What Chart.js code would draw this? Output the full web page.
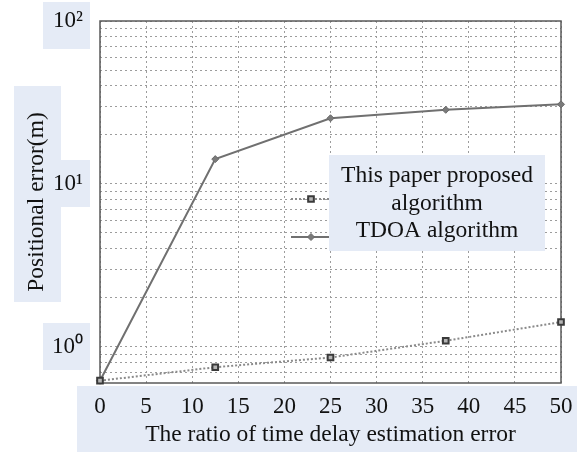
<!DOCTYPE html>
<html>
<head>
<meta charset="utf-8">
<script src="https://cdn.jsdelivr.net/npm/chart.js@4.4.0/dist/chart.umd.min.js"></script>
<style>
  html, body { margin: 0; padding: 0; background: #fff; }
  #wrap { position: relative; width: 577px; height: 452px; }
</style>
</head>
<body>
<div id="wrap"><canvas id="errChart" width="577" height="452"></canvas></div>
<script>
// values
const ratioValues = [0, 12.5, 25, 37.5, 50];
const proposedError = [0.62, 0.75, 0.86, 1.09, 1.42];
const tdoaError = [0.62, 14.2, 25.3, 28.5, 30.8];
const seriesNames = ['This paper proposed algorithm', 'TDOA algorithm'];
const legendLines = ['This paper proposed', 'algorithm', 'TDOA algorithm'];
const yTickLabels = { 1: '10\u2070', 10: '10\u00b9', 100: '10\u00b2' };
const xTitle = 'The ratio of time delay estimation error';
const yTitle = 'Positional error(m)';

const serif = '"Liberation Serif", "Times New Roman", serif';
const patchColor = '#e5ebf6';

// log gridlines: 1..9 in each decade, within the axis range
const yMin = 0.62, yMax = 100;
const yGrid = [];
[0.1, 1, 10].forEach(d => {
    for (let k = 1; k <= 9; k++) {
        const v = Math.round(k * d * 1000) / 1000;
        if (v >= yMin && v <= yMax) yGrid.push(v);
    }
});
yGrid.push(yMax);

const toPoints = ys => ys.map((y, i) => ({ x: ratioValues[i], y: y }));

// light patches behind the axis texts (as in the figure)
const patchPlugin = {
    id: 'patches',
    beforeDraw(chart) {
        const ctx = chart.ctx;
        ctx.save();
        ctx.fillStyle = patchColor;
        [[43, 2, 47, 47], [14, 86, 47, 216], [61, 160, 29, 47], [43, 323, 47, 47], [77, 386, 500, 66]]
            .forEach(r => ctx.fillRect(r[0], r[1], r[2], r[3]));
        ctx.restore();
    },
    beforeDatasetsDraw(chart) {
        const a = chart.chartArea, ctx = chart.ctx;
        ctx.save();
        ctx.strokeStyle = '#5a5a5a';
        ctx.lineWidth = 1.5;
        ctx.strokeRect(a.left, a.top, a.right - a.left, a.bottom - a.top);
        ctx.restore();
    }
};

// legend drawn inside the plot, as in the figure
const legendPlugin = {
    id: 'boxLegend',
    afterDatasetsDraw(chart) {
        const ctx = chart.ctx;
        ctx.save();
        const rows = [199, 237];
        chart.data.datasets.forEach((ds, i) => {
            const y = rows[i];
            ctx.strokeStyle = ds.borderColor;
            ctx.lineWidth = ds.borderWidth;
            ctx.setLineDash(ds.borderDash || []);
            ctx.beginPath();
            ctx.moveTo(291, y);
            ctx.lineTo(331, y);
            ctx.stroke();
            ctx.setLineDash([]);
            ctx.fillStyle = ds.pointBackgroundColor;
            ctx.strokeStyle = ds.pointBorderColor;
            ctx.lineWidth = ds.pointBorderWidth;
            Chart.helpers.drawPoint(ctx, {
                pointStyle: ds.pointStyle, radius: ds.pointRadius,
                rotation: 0, borderWidth: ds.pointBorderWidth
            }, 311, y);
        });
        ctx.fillStyle = patchColor;
        ctx.fillRect(329, 155, 216, 96);
        ctx.fillStyle = '#111';
        ctx.font = '23.5px ' + serif;
        ctx.textAlign = 'center';
        ctx.textBaseline = 'middle';
        [176, 204, 231].forEach((y, i) => ctx.fillText(legendLines[i], 437, y));
        ctx.restore();
    }
};

new Chart(document.getElementById('errChart'), {
    type: 'line',
    data: {
        datasets: [{
            label: seriesNames[0],
            data: toPoints(proposedError),
            borderColor: '#8a8a8a',
            borderWidth: 2,
            borderDash: [2, 2],
            pointStyle: 'rect',
            pointRadius: 4,
            pointBackgroundColor: '#b5b5b5',
            pointBorderColor: '#3a3a3a',
            pointBorderWidth: 2,
            clip: false
        }, {
            label: seriesNames[1],
            data: toPoints(tdoaError),
            borderColor: '#707070',
            borderWidth: 2,
            pointStyle: 'rectRot',
            pointRadius: 3.5,
            pointBackgroundColor: '#7a7a7a',
            pointBorderColor: '#6a6a6a',
            pointBorderWidth: 1,
            clip: false
        }]
    },
    options: {
        responsive: false,
        animation: false,
        layout: { padding: { top: 21, right: 16, left: 0, bottom: 0 } },
        plugins: { legend: { display: false }, tooltip: { enabled: false } },
        scales: {
            x: {
                type: 'linear', min: 0, max: 50,
                afterFit: s => { s.height = 69; s.paddingLeft = 0; s.paddingRight = 0; },
                border: { display: false, dash: [2, 3] },
                grid: { color: '#9c9c9c', lineWidth: 1, drawTicks: false },
                ticks: {
                    stepSize: 5, autoSkip: false, maxRotation: 0, padding: 10,
                    color: '#111', font: { family: serif, size: 23 }
                },
                title: {
                    display: true, text: xTitle, color: '#111',
                    font: { family: serif, size: 23.5 }, padding: { top: 0, bottom: 3 }
                }
            },
            y: {
                type: 'logarithmic', min: yMin, max: yMax,
                afterFit: s => { s.width = 100; s.paddingTop = 0; s.paddingBottom = 0; },
                afterBuildTicks: s => { s.ticks = yGrid.map(v => ({ value: v })); },
                border: { display: false, dash: [2, 3] },
                grid: { color: '#9c9c9c', lineWidth: 1, drawTicks: false },
                ticks: {
                    autoSkip: false, padding: 17, color: '#111',
                    font: { family: serif, size: 23 },
                    callback: v => yTickLabels[v] || ''
                },
                title: {
                    display: true, text: yTitle, color: '#111',
                    font: { family: serif, size: 23.5 }, padding: { top: 23, bottom: 0 }
                }
            }
        }
    },
    plugins: [patchPlugin, legendPlugin]
});
</script>
</body>
</html>
